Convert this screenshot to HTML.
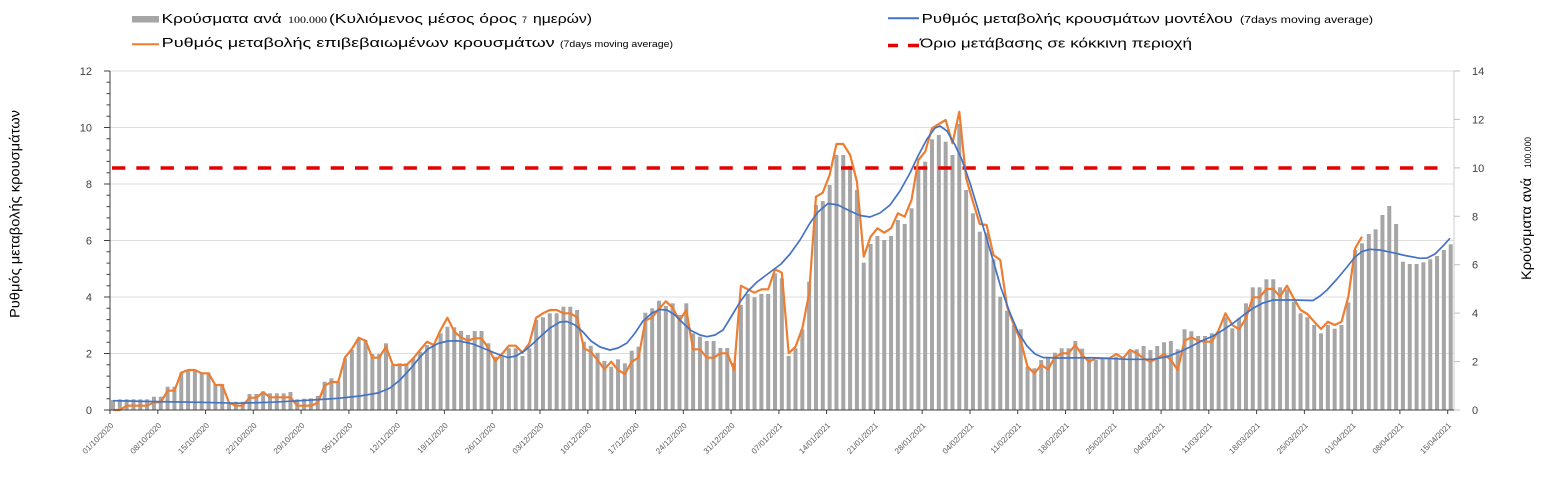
<!DOCTYPE html>
<html>
<head>
<meta charset="utf-8">
<style>
html,body{margin:0;padding:0;background:#fff;}
svg{display:block;}
text{font-family:"Liberation Sans","DejaVu Sans",sans-serif;}
</style>
</head>
<body>
<svg width="1548" height="489" viewBox="0 0 1548 489" xmlns="http://www.w3.org/2000/svg">
<rect x="0" y="0" width="1548" height="489" fill="#fff"/>

<!-- gridlines -->
<g stroke="#dedede" stroke-width="1">
<line x1="110" y1="353.5" x2="1454" y2="353.5"/>
<line x1="110" y1="297" x2="1454" y2="297"/>
<line x1="110" y1="240.5" x2="1454" y2="240.5"/>
<line x1="110" y1="184" x2="1454" y2="184"/>
<line x1="110" y1="127.5" x2="1454" y2="127.5"/>
<line x1="110" y1="71" x2="1454" y2="71"/>
</g>
<!-- right axis line -->
<line x1="1454" y1="71" x2="1454" y2="410" stroke="#cfcfcf" stroke-width="1"/>
<path d="M1454 410H1460M1454 361.6H1460M1454 313.1H1460M1454 264.7H1460M1454 216.3H1460M1454 167.9H1460M1454 119.4H1460M1454 71H1460" stroke="#bfbfbf" stroke-width="1"/>

<!-- bars -->
<g transform="translate(111,410) scale(6.825,-1)" fill="#a6a6a6">
<rect x="0" width=".586" height="10"/><rect x="1" width=".586" height="10.7"/><rect x="2" width=".586" height="10.7"/><rect x="3" width=".586" height="10.7"/><rect x="4" width=".586" height="10.7"/><rect x="5" width=".586" height="10.7"/><rect x="6" width=".586" height="13.3"/><rect x="7" width=".586" height="13.3"/><rect x="8" width=".586" height="23.3"/><rect x="9" width=".586" height="23.3"/>
<rect x="10" width=".586" height="37.3"/><rect x="11" width=".586" height="40"/><rect x="12" width=".586" height="40"/><rect x="13" width=".586" height="37.3"/><rect x="14" width=".586" height="37.3"/><rect x="15" width=".586" height="26"/><rect x="16" width=".586" height="26"/><rect x="17" width=".586" height="7"/><rect x="18" width=".586" height="8.3"/><rect x="19" width=".586" height="8.3"/>
<rect x="20" width=".586" height="16"/><rect x="21" width=".586" height="16"/><rect x="22" width=".586" height="18.7"/><rect x="23" width=".586" height="16.7"/><rect x="24" width=".586" height="16.7"/><rect x="25" width=".586" height="16.7"/><rect x="26" width=".586" height="18"/><rect x="27" width=".586" height="10.7"/><rect x="28" width=".586" height="11.3"/><rect x="29" width=".586" height="11.7"/>
<rect x="30" width=".586" height="14"/><rect x="31" width=".586" height="28.3"/><rect x="32" width=".586" height="31.7"/><rect x="33" width=".586" height="28.3"/><rect x="34" width=".586" height="51.7"/><rect x="35" width=".586" height="60"/><rect x="36" width=".586" height="71.7"/><rect x="37" width=".586" height="70"/><rect x="38" width=".586" height="56"/><rect x="39" width=".586" height="56"/>
<rect x="40" width=".586" height="66.7"/><rect x="41" width=".586" height="45"/><rect x="42" width=".586" height="46.7"/><rect x="43" width=".586" height="46.7"/><rect x="44" width=".586" height="51.7"/><rect x="45" width=".586" height="58.3"/><rect x="46" width=".586" height="65"/><rect x="47" width=".586" height="65"/><rect x="48" width=".586" height="76.7"/><rect x="49" width=".586" height="83.3"/>
<rect x="50" width=".586" height="82.7"/><rect x="51" width=".586" height="79"/><rect x="52" width=".586" height="75"/><rect x="53" width=".586" height="79"/><rect x="54" width=".586" height="79"/><rect x="55" width=".586" height="66.7"/><rect x="56" width=".586" height="53.3"/><rect x="57" width=".586" height="53.3"/><rect x="58" width=".586" height="61.7"/><rect x="59" width=".586" height="61.7"/>
<rect x="60" width=".586" height="54"/><rect x="61" width=".586" height="61.7"/><rect x="62" width=".586" height="90"/><rect x="63" width=".586" height="92.7"/><rect x="64" width=".586" height="96.7"/><rect x="65" width=".586" height="96.7"/><rect x="66" width=".586" height="103.3"/><rect x="67" width=".586" height="103.3"/><rect x="68" width=".586" height="100"/><rect x="69" width=".586" height="68.3"/>
<rect x="70" width=".586" height="64.3"/><rect x="71" width=".586" height="57.3"/><rect x="72" width=".586" height="49"/><rect x="73" width=".586" height="43.3"/><rect x="74" width=".586" height="50.7"/><rect x="75" width=".586" height="46.7"/><rect x="76" width=".586" height="59.3"/><rect x="77" width=".586" height="63.3"/><rect x="78" width=".586" height="97.3"/><rect x="79" width=".586" height="101.7"/>
<rect x="80" width=".586" height="109.3"/><rect x="81" width=".586" height="104"/><rect x="82" width=".586" height="106.7"/><rect x="83" width=".586" height="95"/><rect x="84" width=".586" height="106.7"/><rect x="85" width=".586" height="76.7"/><rect x="86" width=".586" height="73.3"/><rect x="87" width=".586" height="69"/><rect x="88" width=".586" height="69"/><rect x="89" width=".586" height="62"/>
<rect x="90" width=".586" height="62"/><rect x="91" width=".586" height="47"/><rect x="92" width=".586" height="105"/><rect x="93" width=".586" height="116"/><rect x="94" width=".586" height="112.7"/><rect x="95" width=".586" height="116"/><rect x="96" width=".586" height="116"/><rect x="97" width=".586" height="136.7"/><rect x="98" width=".586" height="131.7"/><rect x="99" width=".586" height="54"/>
<rect x="100" width=".586" height="61.7"/><rect x="101" width=".586" height="80.7"/><rect x="102" width=".586" height="128.3"/><rect x="103" width=".586" height="205"/><rect x="104" width=".586" height="209"/><rect x="105" width=".586" height="225"/><rect x="106" width=".586" height="255"/><rect x="107" width=".586" height="255"/><rect x="108" width=".586" height="244.3"/><rect x="109" width=".586" height="220"/>
<rect x="110" width=".586" height="147.3"/><rect x="111" width=".586" height="166"/><rect x="112" width=".586" height="174"/><rect x="113" width=".586" height="170"/><rect x="114" width=".586" height="174"/><rect x="115" width=".586" height="190"/><rect x="116" width=".586" height="186"/><rect x="117" width=".586" height="201.7"/><rect x="118" width=".586" height="240"/><rect x="119" width=".586" height="248.3"/>
<rect x="120" width=".586" height="270.7"/><rect x="121" width=".586" height="275"/><rect x="122" width=".586" height="268.3"/><rect x="123" width=".586" height="255"/><rect x="124" width=".586" height="286"/><rect x="125" width=".586" height="220"/><rect x="126" width=".586" height="196.7"/><rect x="127" width=".586" height="178.3"/><rect x="128" width=".586" height="177.3"/><rect x="129" width=".586" height="150.7"/>
<rect x="130" width=".586" height="113.3"/><rect x="131" width=".586" height="99.3"/><rect x="132" width=".586" height="85"/><rect x="133" width=".586" height="80.7"/><rect x="134" width=".586" height="43.3"/><rect x="135" width=".586" height="41.7"/><rect x="136" width=".586" height="50"/><rect x="137" width=".586" height="52.7"/><rect x="138" width=".586" height="57.3"/><rect x="139" width=".586" height="61.7"/>
<rect x="140" width=".586" height="61.7"/><rect x="141" width=".586" height="69"/><rect x="142" width=".586" height="61.3"/><rect x="143" width=".586" height="51.7"/><rect x="144" width=".586" height="50"/><rect x="145" width=".586" height="51.7"/><rect x="146" width=".586" height="51.7"/><rect x="147" width=".586" height="53.3"/><rect x="148" width=".586" height="52.3"/><rect x="149" width=".586" height="58.3"/>
<rect x="150" width=".586" height="60.7"/><rect x="151" width=".586" height="64"/><rect x="152" width=".586" height="60"/><rect x="153" width=".586" height="64"/><rect x="154" width=".586" height="67.7"/><rect x="155" width=".586" height="69"/><rect x="156" width=".586" height="60.7"/><rect x="157" width=".586" height="80.7"/><rect x="158" width=".586" height="78.7"/><rect x="159" width=".586" height="74"/>
<rect x="160" width=".586" height="74"/><rect x="161" width=".586" height="76.7"/><rect x="162" width=".586" height="78.3"/><rect x="163" width=".586" height="92.7"/><rect x="164" width=".586" height="81.7"/><rect x="165" width=".586" height="91.7"/><rect x="166" width=".586" height="106.7"/><rect x="167" width=".586" height="122.7"/><rect x="168" width=".586" height="122.7"/><rect x="169" width=".586" height="130.7"/>
<rect x="170" width=".586" height="130.7"/><rect x="171" width=".586" height="122.7"/><rect x="172" width=".586" height="120.7"/><rect x="173" width=".586" height="108.3"/><rect x="174" width=".586" height="96.7"/><rect x="175" width=".586" height="92.7"/><rect x="176" width=".586" height="85"/><rect x="177" width=".586" height="76.7"/><rect x="178" width=".586" height="85"/><rect x="179" width=".586" height="81.3"/>
<rect x="180" width=".586" height="85"/><rect x="181" width=".586" height="107.7"/><rect x="182" width=".586" height="160"/><rect x="183" width=".586" height="166.7"/><rect x="184" width=".586" height="176"/><rect x="185" width=".586" height="180.7"/><rect x="186" width=".586" height="195"/><rect x="187" width=".586" height="204"/><rect x="188" width=".586" height="186"/><rect x="189" width=".586" height="148.3"/>
<rect x="190" width=".586" height="146"/><rect x="191" width=".586" height="146"/><rect x="192" width=".586" height="147.7"/><rect x="193" width=".586" height="150.7"/><rect x="194" width=".586" height="154"/><rect x="195" width=".586" height="160"/><rect x="196" width=".586" height="165.7"/>
</g>

<!-- red threshold -->
<line x1="112" y1="168" x2="1438" y2="168" stroke="#e60000" stroke-width="3.5" stroke-dasharray="13.3 11"/>

<!-- orange series -->
<polyline transform="translate(113,0) scale(6.825,1)" vector-effect="non-scaling-stroke" fill="none" stroke="#ed7d31" stroke-width="2.2" stroke-linejoin="round" points="0,410 1,410 2,405.7 3,405.7 4,405.7 5,405.7 6,402.3 7,402.3 8,390.7 9,390.7 10,372.7 11,370 12,370 13,373.3 14,373.3 15,385 16,385 17,402.7 18,405.7 19,405.7 20,397.7 21,397.7 22,392.3 23,397.3 24,397.3 25,397.3 26,397.3 27,405.7 28,405.7 29,405.7 30,402.7 31,385.7 32,382 33,382 34,357.3 35,349 36,337.7 37,340.7 38,357.7 39,357.7 40,346.7 41,365 42,365 43,365 44,358.3 45,350 46,341.7 47,345 48,330 49,317.7 50,331.7 51,337.3 52,340.7 53,338.3 54,338.3 55,348.3 56,361 57,354 58,345.7 59,345.7 60,352.7 61,343.3 62,317.7 63,313.3 64,310 65,310 66,313.3 67,313.3 68,317.3 69,348.3 70,351.7 71,360 72,369.3 73,361.7 74,370 75,374 76,361.7 77,357.7 78,320.7 79,317.3 80,309 81,301.3 82,307.7 83,320.7 84,310 85,349.3 86,349.3 87,357.7 88,357.7 89,353.3 90,353.3 91,370 92,285.7 93,289.3 94,292.7 95,289.3 96,289.3 97,269.3 98,272.7 99,353.3 100,346.7 101,328.3 102,293.3 103,196.7 104,192.7 105,175 106,144 107,144 108,155 109,181.7 110,256.7 111,236.7 112,228.3 113,232.7 114,228.3 115,213.3 116,216.7 117,200 118,160 119,151.7 120,128.3 121,124 122,120 123,143.3 124,111.7 125,178.3 126,201.7 127,224 128,225 129,255 130,260 131,306.7 132,325 133,340.7 134,366.7 135,373.3 136,365 137,369.3 138,357.3 139,353.3 140,353.3 141,345 142,355 143,361.7 144,358.3 145,358.3 146,358.3 147,354 148,358.3 149,350 150,353.3 151,358.3 152,361.7 153,358.3 154,354 155,360 156,370 157,340.7 158,337.3 159,340.7 160,341.7 161,341.7 162,330 163,313.3 164,325 165,329.3 166,318.3 167,297.3 168,297.3 169,289 170,289 171,296.7 172,285.7 173,298.3 174,310 175,314 176,321.7 177,329 178,321.7 179,325 180,321.7 181,296.7 182,248.3 183,236.7"/>

<!-- blue series -->
<polyline fill="none" stroke="#4472c4" stroke-width="1.7" stroke-linejoin="round" points="113,400.7 150,401.5 200,402.3 238,403.2 270,402.3 298,400.8 320,399.5 338,398.3 360,396 378,393 390,388 400,380 412,367 420,357 428,349 438,343.5 448,341 458,340.8 473,344 490,351 500,355 508,357.5 516,356 525,350.5 533,343.5 541,336 550,328 560,322 567,321.5 575,325 583,332 591,341 600,347 610,350 618,348 627,343 635,333 643,321 652,313 660,309.5 667,310 675,315 683,323 691,330.5 700,335 707,336.7 715,335 723,330 731,317 740,302 748,291 757,282 765,276 773,270 781,264 790,254 800,240 810,223 818,212 828,203.5 838,205 850,211 860,215.5 870,217 880,213 890,205 900,191 910,173 918,156 927,139 935,128 940,126 947,131 955,145 962,160 970,183 977,206 985,233 993,260 1001,288 1010,313 1018,332 1027,346 1035,354 1043,357.5 1060,358 1093,357.7 1127,359.3 1153,359.3 1167,356.7 1180,351.7 1190,347 1200,341.7 1213,336 1223,330 1233,323.3 1243,315.5 1253,308.3 1263,303 1273,300 1293,300 1313,300.5 1320,296 1327,290 1337,279 1347,267 1355,257 1362,251.5 1370,249.3 1380,250 1393,252.7 1405,255.5 1420,258.3 1427,258 1435,254 1443,246 1450,238.3"/>

<!-- left axis -->
<line x1="110" y1="71" x2="110" y2="410" stroke="#404040" stroke-width="1"/>
<path stroke="#404040" stroke-width="1" d="M104 410H110M106.5 398.7H110M106.5 387.4H110M106.5 376.1H110M106.5 364.8H110M104 353.5H110M106.5 342.2H110M106.5 330.9H110M106.5 319.6H110M106.5 308.3H110M104 297H110M106.5 285.7H110M106.5 274.4H110M106.5 263.1H110M106.5 251.8H110M104 240.5H110M106.5 229.2H110M106.5 217.9H110M106.5 206.6H110M106.5 195.3H110M104 184H110M106.5 172.7H110M106.5 161.4H110M106.5 150.1H110M106.5 138.8H110M104 127.5H110M106.5 116.2H110M106.5 104.9H110M106.5 93.6H110M106.5 82.3H110M104 71H110"/>
<g font-size="11" fill="#404040" text-anchor="end">
<text x="92" y="414">0</text>
<text x="92" y="357.5">2</text>
<text x="92" y="301">4</text>
<text x="92" y="244.5">6</text>
<text x="92" y="188">8</text>
<text x="92" y="131.5">10</text>
<text x="92" y="75">12</text>
</g>

<!-- right axis labels -->
<g font-size="11" fill="#404040">
<text x="1472" y="414">0</text>
<text x="1472" y="365.6">2</text>
<text x="1472" y="317.1">4</text>
<text x="1472" y="268.7">6</text>
<text x="1472" y="220.3">8</text>
<text x="1472" y="171.9">10</text>
<text x="1472" y="123.4">12</text>
<text x="1472" y="75">14</text>
</g>

<!-- x axis -->
<line x1="110" y1="410" x2="1454" y2="410" stroke="#404040" stroke-width="1"/>
<path stroke="#404040" stroke-width="1" d="M110 410V414M157.8 410V414M205.6 410V414M253.3 410V414M301.1 410V414M348.9 410V414M396.7 410V414M444.4 410V414M492.2 410V414M540 410V414M587.8 410V414M635.5 410V414M683.3 410V414M731.1 410V414M778.9 410V414M826.6 410V414M874.4 410V414M922.2 410V414M970 410V414M1017.7 410V414M1065.5 410V414M1113.3 410V414M1161.1 410V414M1208.8 410V414M1256.6 410V414M1304.4 410V414M1352.2 410V414M1399.9 410V414M1447.7 410V414"/>
<g font-size="8" fill="#595959" text-anchor="end">
<text transform="translate(114,426) rotate(-45)">01/10/2020</text>
<text transform="translate(161.8,426) rotate(-45)">08/10/2020</text>
<text transform="translate(209.6,426) rotate(-45)">15/10/2020</text>
<text transform="translate(257.3,426) rotate(-45)">22/10/2020</text>
<text transform="translate(305.1,426) rotate(-45)">29/10/2020</text>
<text transform="translate(352.9,426) rotate(-45)">05/11/2020</text>
<text transform="translate(400.7,426) rotate(-45)">12/11/2020</text>
<text transform="translate(448.4,426) rotate(-45)">19/11/2020</text>
<text transform="translate(496.2,426) rotate(-45)">26/11/2020</text>
<text transform="translate(544,426) rotate(-45)">03/12/2020</text>
<text transform="translate(591.8,426) rotate(-45)">10/12/2020</text>
<text transform="translate(639.5,426) rotate(-45)">17/12/2020</text>
<text transform="translate(687.3,426) rotate(-45)">24/12/2020</text>
<text transform="translate(735.1,426) rotate(-45)">31/12/2020</text>
<text transform="translate(782.9,426) rotate(-45)">07/01/2021</text>
<text transform="translate(830.6,426) rotate(-45)">14/01/2021</text>
<text transform="translate(878.4,426) rotate(-45)">21/01/2021</text>
<text transform="translate(926.2,426) rotate(-45)">28/01/2021</text>
<text transform="translate(974,426) rotate(-45)">04/02/2021</text>
<text transform="translate(1021.7,426) rotate(-45)">11/02/2021</text>
<text transform="translate(1069.5,426) rotate(-45)">18/02/2021</text>
<text transform="translate(1117.3,426) rotate(-45)">25/02/2021</text>
<text transform="translate(1165.1,426) rotate(-45)">04/03/2021</text>
<text transform="translate(1212.8,426) rotate(-45)">11/03/2021</text>
<text transform="translate(1260.6,426) rotate(-45)">18/03/2021</text>
<text transform="translate(1308.4,426) rotate(-45)">25/03/2021</text>
<text transform="translate(1356.2,426) rotate(-45)">01/04/2021</text>
<text transform="translate(1403.9,426) rotate(-45)">08/04/2021</text>
<text transform="translate(1451.7,426) rotate(-45)">15/04/2021</text>
</g>

<!-- axis titles -->
<text transform="translate(19.5,214) rotate(-90)" text-anchor="middle" font-size="13.5" fill="#000" textLength="208" lengthAdjust="spacingAndGlyphs">Ρυθμός μεταβολής κρουσμάτων</text>
<text transform="translate(1531,280) rotate(-90)" font-size="13.5" fill="#000" textLength="102" lengthAdjust="spacingAndGlyphs">Κρούσματα ανά</text>
<text transform="translate(1531,168) rotate(-90)" font-size="9" fill="#000" textLength="31" lengthAdjust="spacingAndGlyphs">100.000</text>

<!-- legend left -->
<rect x="132" y="16" width="27" height="6.5" fill="#a6a6a6"/>
<text x="161.7" y="23" font-size="13" fill="#000" textLength="120" lengthAdjust="spacingAndGlyphs">Κρούσματα ανά</text>
<text x="288" y="23" font-size="9.5" fill="#000" style="font-family:'Liberation Serif',serif" textLength="39" lengthAdjust="spacingAndGlyphs">100.000</text>
<text x="329" y="23" font-size="13" fill="#000" textLength="188" lengthAdjust="spacingAndGlyphs">(Κυλιόμενος μέσος όρος</text>
<text x="522" y="23" font-size="9" fill="#000">7</text>
<text x="533" y="23" font-size="13" fill="#000" textLength="59" lengthAdjust="spacingAndGlyphs">ημερών)</text>

<line x1="132" y1="44.3" x2="159" y2="44.3" stroke="#ed7d31" stroke-width="2"/>
<text x="161.7" y="47" font-size="13" fill="#000" textLength="393" lengthAdjust="spacingAndGlyphs">Ρυθμός μεταβολής επιβεβαιωμένων κρουσμάτων</text>
<text x="560" y="47" font-size="9.5" fill="#000" textLength="113" lengthAdjust="spacingAndGlyphs">(7days moving average)</text>

<!-- legend right -->
<line x1="888" y1="18.3" x2="919" y2="18.3" stroke="#4472c4" stroke-width="2"/>
<text x="921.7" y="23" font-size="13" fill="#000" textLength="311" lengthAdjust="spacingAndGlyphs">Ρυθμός μεταβολής κρουσμάτων μοντέλου</text>
<text x="1240" y="23" font-size="10" fill="#000" textLength="133" lengthAdjust="spacingAndGlyphs">(7days moving average)</text>

<line x1="888" y1="45.5" x2="898" y2="45.5" stroke="#e60000" stroke-width="3.5"/>
<line x1="908" y1="45.5" x2="919" y2="45.5" stroke="#e60000" stroke-width="3.5"/>
<text x="920" y="47.5" font-size="13" fill="#000" textLength="272" lengthAdjust="spacingAndGlyphs">Όριο μετάβασης σε κόκκινη περιοχή</text>
</svg>
</body>
</html>
